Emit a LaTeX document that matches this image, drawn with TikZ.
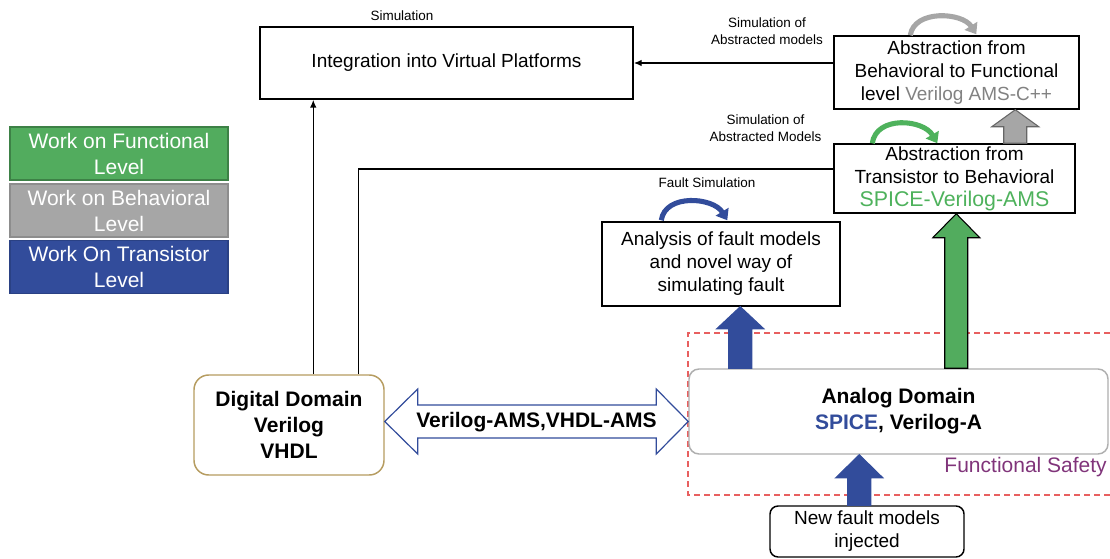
\documentclass[tikz,border=0pt]{standalone}
\usepackage{fontspec}
\setmainfont{Liberation Sans}
\usetikzlibrary{calc,arrows.meta}

\definecolor{fgreen}{RGB}{82,172,94}
\definecolor{bgray}{RGB}{166,166,166}
\definecolor{tblue}{RGB}{50,76,155}
\definecolor{goldtan}{RGB}{182,156,96}
\definecolor{safered}{RGB}{232,96,96}
\definecolor{safepurple}{RGB}{128,52,122}
\definecolor{txtgray}{RGB}{130,130,130}
\definecolor{txtgreen}{RGB}{78,178,92}
\definecolor{edgegray}{RGB}{175,175,175}

% upward block arrow: fill, outline, tail point, tip point, head length
\newcommand\fatup[5]{%
  \filldraw[fill=#1,draw=#2,line width=0.8pt]
    ($#3+(-11.5,0)$) -- ($#4+(-11.5,#5)$) -- ($#4+(-23.5,#5)$) -- #4
    -- ($#4+(23.5,#5)$) -- ($#4+(11.5,#5)$) -- ($#3+(11.5,0)$) -- cycle;}

\begin{document}
\begin{tikzpicture}[x=0.75pt,y=-0.75pt,
  box/.style={draw=black,line width=1.1pt,fill=white,align=center,inner sep=0pt,
    font=\fontsize{14.25}{17.25}\selectfont},
  boldbox/.style={fill=white,align=center,inner sep=0pt,rounded corners=11pt,
    font=\fontsize{15.75}{19.5}\selectfont\bfseries},
  legend/.style={align=center,inner sep=0pt,text=white,line width=0.8pt,
    minimum width=163.5pt,minimum height=39.75pt,
    font=\fontsize{15.75}{19.5}\selectfont},
  small/.style={align=center,inner sep=0pt,font=\fontsize{10.1}{12.75}\selectfont},
  link/.style={draw=black,line width=1.1pt},
  linkarrow/.style={link,-{Latex[length=6pt,width=5pt]}},
  looparrow/.style={line width=3.8pt,-{Triangle[length=7.5pt,width=11pt]}}]

\useasboundingbox (0,0) rectangle (1110,559);

% functional safety region (runs on past the right edge)
\draw[safered,line width=0.9pt,dash pattern=on 4.5pt off 3pt] (1110,333) -- (688,333) -- (688,495) -- (1110,495);
\node[anchor=east,inner sep=0pt,text=safepurple,font=\fontsize{15.75}{19}\selectfont] (safety) at (1107,467) {Functional Safety};

% legend
\node[legend,fill=fgreen,draw=fgreen!75!black] (lgf) at (119,153.5) {Work on Functional\\Level};
\node[legend,fill=bgray,draw=bgray!85!black] (lgb) at (119,210.5) {Work on Behavioral\\Level};
\node[legend,fill=tblue,draw=tblue!85!black] (lgt) at (119,267) {Work On Transistor\\Level};

% main boxes
\node[box,minimum width=279.75pt,minimum height=54pt] (integ) at (446.5,63) {Integration into Virtual Platforms};
\node[box,minimum width=183.75pt,minimum height=54.75pt] (bf) at (956.5,72.5)
  {Abstraction from\\Behavioral to Functional\\level {\color{txtgray}Verilog AMS-C++}};
\node[box,minimum width=180.75pt,minimum height=51.75pt] (tb) at (954.5,178.5)
  {Abstraction from\\Transistor to Behavioral\\{\fontsize{16}{17.25}\selectfont\color{txtgreen}SPICE-Verilog-AMS}};
\node[box,minimum width=178.5pt,minimum height=63pt] (fault) at (721,264)
  {Analysis of fault models\\and novel way of\\simulating fault};
\node[boldbox,draw=edgegray,line width=1.1pt,rounded corners=7.5pt,minimum width=314.25pt,minimum height=63.75pt] (analog) at (898.5,411.5)
  {Analog Domain\\{\color{tblue}SPICE}, Verilog-A};
\node[box,rounded corners=6pt,minimum width=145.5pt,minimum height=38.25pt] (newf) at (867,531.5)
  {New fault models\\injected};
\node[boldbox,draw=goldtan,line width=1.1pt,minimum width=142.5pt,minimum height=75pt] (digital) at (289,425)
  {Digital Domain\\Verilog\\VHDL};

% small labels
\node[small] (simlab) at (402,16) {Simulation};
\node[small] (simab1) at (767,31.5) {Simulation of\\Abstracted models};
\node[small] (simab2) at (765.5,128.5) {Simulation of\\Abstracted Models};
\node[small] (faultsim) at (707,183) {Fault Simulation};

% thin connectors
\draw[linkarrow] ($(digital.north west)+(120,0)$) -- ($(integ.south west)+(54,0)$);
\draw[link] ($(digital.north west)+(165,0)$) |- ($(tb.west)+(0,-9.5)$);
\draw[linkarrow] (bf.west |- integ.east) -- (integ.east);

% block arrows
\fatup{tblue}{tblue}{($(analog.north west)+(52,0)$)}{($(fault.south west)+(139,0)$)}{22}
\fatup{fgreen}{black}{($(analog.north west)+(268,0)$)}{($(tb.south west)+(123,0)$)}{24}
\fatup{bgray}{black!60}{($(tb.north west)+(182,0)$)}{($(bf.south west)+(182,0)$)}{17}
\fatup{tblue}{tblue}{($(newf.north west)+(90,0)$)}{($(analog.south west)+(171,0)$)}{23}

% two-headed interface arrow
\coordinate (dl) at ($(digital.east)+(0,-3.5)$);
\coordinate (dr) at (analog.west |- dl);
\filldraw[fill=white,draw=tblue,line width=0.9pt]
  (dl) -- ($(dl)+(33,-32.5)$) -- ($(dl)+(33,-16.5)$) -- ($(dr)+(-32,-16.5)$)
  -- ($(dr)+(-32,-32.5)$) -- (dr) -- ($(dr)+(-32,32.5)$) -- ($(dr)+(-32,16.5)$)
  -- ($(dl)+(33,16.5)$) -- ($(dl)+(33,32.5)$) -- cycle;
\node[inner sep=0pt,font=\fontsize{15.75}{19}\selectfont\bfseries] (iface) at ($(dl)!0.5!(dr)+(0,1)$) {Verilog-AMS,VHDL-AMS};

% loop arrows
\draw[looparrow,tblue] ($(fault.north west)+(60,-1)$) .. controls +(4,-27) and +(-14,-23) .. ($(fault.north west)+(126,-1)$);
\draw[looparrow,txtgreen] ($(tb.north west)+(39,0)$) .. controls +(4,-28) and +(-14,-24) .. ($(tb.north west)+(104,0)$);
\draw[looparrow,bgray] ($(bf.north west)+(77,0)$) .. controls +(4,-26) and +(-14,-22) .. ($(bf.north west)+(143,-1)$);

\end{tikzpicture}
\end{document}
